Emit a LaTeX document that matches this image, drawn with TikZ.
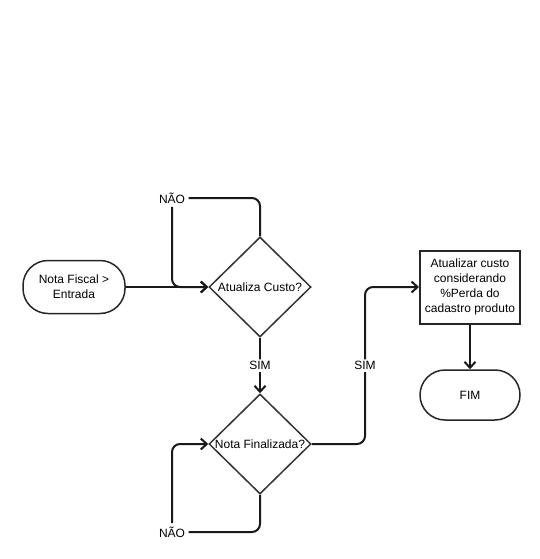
\documentclass[tikz,border=0pt]{standalone}
\usepackage{fontspec}
\setmainfont{Liberation Sans}
\usetikzlibrary{arrows.meta,shapes.geometric,backgrounds}

\begin{document}
\begin{tikzpicture}[
  x=1pt,y=-1pt,
  font=\fontsize{12}{15}\selectfont,
  >={Straight Barb[length=6pt,width=11pt]},
  term/.style={draw=black!85,line width=1.5pt,rounded corners=25pt,align=center,
               minimum width=100pt,minimum height=50pt,inner sep=2pt},
  dec/.style={diamond,draw=black!80,line width=1.5pt,minimum width=102pt,
              minimum height=100pt,inner sep=0pt},
  proc/.style={draw=black!85,line width=2pt,align=center,
               minimum width=100pt,minimum height=73pt,inner sep=2pt},
  flow/.style={draw=black!90,line width=2pt,rounded corners=8pt},
  lbl/.style={fill=white,inner sep=2pt},
]
\useasboundingbox (0,0) rectangle (540,559);

% ---- nodes -----------------------------------------------------------------
\node[term,minimum width=102pt,minimum height=53pt] (nfe) at (74,287) {Nota Fiscal >\\Entrada};
\node[dec]  (acusto) at (260,287) {\makebox[0pt]{Atualiza Custo?}};
\node[dec]  (nfin)   at (260,444) {\makebox[0pt]{Nota Finalizada?}};
\node[proc] (atcus)  at (470,287) {Atualizar custo\\considerando\\\%Perda do\\cadastro produto};
\node[term] (fim)    at (470,395) {FIM};

\node (nao1) at (172,198) {NÃO};
\node (nao2) at (172,532) {NÃO};
\coordinate (sjog) at (365,444);

% ---- connectors ------------------------------------------------------------
\begin{scope}[on background layer]
  \draw[flow,->] (nfe) -- (acusto);
  % loop while cost not updated
  \draw[flow] (acusto.north) |- (nao1.east);
  \draw[flow,->] (nao1.south) |- (acusto.west);
  \draw[flow,->] (acusto.south) -- node[lbl]{SIM} (nfin.north);
  % loop while note not finished
  \draw[flow] (nfin.south) |- (nao2.east);
  \draw[flow,->] (nao2.north) |- (nfin.west);
  \draw[flow,->] (nfin.east) -- (sjog) |- node[lbl,pos=0.25]{SIM} (atcus.west);
  \draw[flow,->] (atcus) -- (fim);
\end{scope}

\end{tikzpicture}
\end{document}
